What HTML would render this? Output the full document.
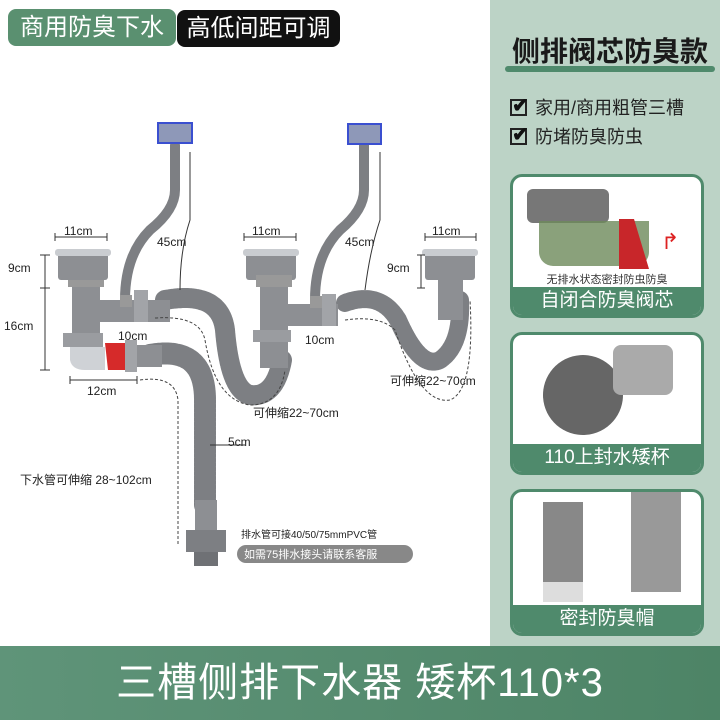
<!DOCTYPE html>
<html><head><meta charset="utf-8"><style>
*{margin:0;padding:0;box-sizing:border-box}
body{width:720px;height:720px;background:#fff;position:relative;overflow:hidden;font-family:"Liberation Sans","Noto Sans CJK SC",sans-serif}
.abs{position:absolute}
.badge{position:absolute;color:#fff;font-size:24px;line-height:37px;text-align:center;border-radius:8px}
.card{position:absolute;left:510px;width:194px;background:#fff;border:3px solid #4f8a6c;border-radius:12px;overflow:hidden}
.cap{position:absolute;left:0;right:0;bottom:0;height:28px;background:#4f8a6c;color:#fff;font-size:19px;line-height:28px;text-align:center}
.chk{font-size:18px;color:#222;position:absolute;left:510px}
.chk b{display:inline-block;width:17px;height:17px;border:2px solid #222;margin-right:8px;vertical-align:-2px;position:relative}
.chk b:after{content:"✔";position:absolute;left:0;top:-8px;font-size:20px;color:#111}
</style></head><body>
<div class="abs" style="left:490px;top:0;width:230px;height:646px;background:#bcd3c6"></div>
<div class="badge" style="left:8px;top:9px;width:168px;background:#5a9070">商用防臭下水</div>
<div class="badge" style="left:177px;top:10px;width:163px;background:#111">高低间距可调</div>
<div class="abs" style="left:505px;top:30px;width:210px;text-align:center;font-size:28px;font-weight:bold;color:#1a1a1a;white-space:nowrap">侧排阀芯防臭款</div>
<div class="abs" style="left:505px;top:66px;width:210px;height:6px;background:#4f8a6c;border-radius:3px"></div>
<div class="chk" style="top:94px"><b></b>家用/商用粗管三槽</div>
<div class="chk" style="top:123px"><b></b>防堵防臭防虫</div>

<div class="card" style="top:174px;height:144px">
 <div class="abs" style="left:14px;top:12px;width:82px;height:34px;background:#777;border-radius:6px"></div>
 <div class="abs" style="left:26px;top:44px;width:110px;height:45px;background:#6d8a5a;border-radius:0 0 14px 14px;opacity:.8"></div>
 <div class="abs" style="left:106px;top:42px;width:30px;height:50px;background:#c8262a;clip-path:polygon(0 0,50% 0,100% 100%,0 100%)"></div>
 <div class="abs" style="left:148px;top:52px;color:#d22;font-size:22px">↱</div>
 <div class="abs" style="left:0;right:0;top:94px;text-align:center;font-size:11px;color:#333">无排水状态密封防虫防臭</div>
 <div class="cap">自闭合防臭阀芯</div>
</div>
<div class="card" style="top:332px;height:143px">
 <div class="abs" style="left:30px;top:20px;width:80px;height:80px;background:#666;border-radius:50%;transform:rotate(30deg)"></div>
 <div class="abs" style="left:100px;top:10px;width:60px;height:50px;background:#aaa;border-radius:8px"></div>
 <div class="cap">110上封水矮杯</div>
</div>
<div class="card" style="top:489px;height:147px">
 <div class="abs" style="left:30px;top:10px;width:40px;height:80px;background:#888"></div>
 <div class="abs" style="left:118px;top:0;width:50px;height:100px;background:#999"></div>
 <div class="abs" style="left:30px;top:90px;width:40px;height:20px;background:#ddd"></div>
 <div class="cap">密封防臭帽</div>
</div>

<svg class="abs" style="left:0;top:0" width="490" height="646" font-family="Liberation Sans,Noto Sans CJK SC,sans-serif" font-size="12" fill="#222">
 <g fill="none" stroke="#7d7f83" stroke-linecap="round">
  <path d="M175 145 L175 190 Q175 210 150 230 Q125 255 125 300" stroke-width="10"/>
  <path d="M364 145 L364 190 Q364 210 340 230 Q315 255 315 300" stroke-width="10"/>
  <path d="M165 300 Q220 290 225 330 Q230 390 250 395 Q275 398 282 360" stroke-width="20" stroke-dasharray="3 1.5"/>
  <path d="M345 303 Q380 290 398 320 Q420 370 440 360 Q462 345 460 300" stroke-width="18" stroke-dasharray="3 1.5"/>
  <path d="M150 355 Q205 345 205 400 L205 505" stroke-width="22" stroke-dasharray="3 1.5"/>
 </g>
 <rect x="72" y="280" width="28" height="58" fill="#8d8f93"/>
 <rect x="68" y="275" width="36" height="12" fill="#999"/>
 <rect x="100" y="300" width="70" height="22" fill="#8d8f93"/>
 <rect x="120" y="295" width="12" height="12" fill="#999"/>
 <rect x="134" y="290" width="14" height="32" fill="#a2a4a8"/>
 <rect x="63" y="333" width="40" height="14" fill="#9a9ca0"/>
 <path d="M70 347 L70 360 Q72 370 85 370 L105 370 L105 347 Z" fill="#cfd2d6"/>
 <path d="M105 343 L125 343 L125 370 L108 370 Z" fill="#d62a2a"/>
 <rect x="125" y="340" width="12" height="32" fill="#a2a4a8"/>
 <rect x="137" y="345" width="25" height="22" fill="#8d8f93"/>
 <g fill="#8d8f93">
  <rect x="58" y="252" width="50" height="28" rx="3"/><rect x="246" y="252" width="50" height="28" rx="3"/><rect x="425" y="252" width="50" height="28" rx="3"/>
 </g>
 <g fill="#c9ccd0"><rect x="55" y="249" width="56" height="7" rx="3"/><rect x="243" y="249" width="56" height="7" rx="3"/><rect x="422" y="249" width="56" height="7" rx="3"/></g>
 <rect x="260" y="280" width="28" height="88" fill="#8d8f93"/>
 <rect x="256" y="275" width="36" height="12" fill="#999"/>
 <rect x="288" y="304" width="50" height="22" fill="#8d8f93"/>
 <rect x="310" y="296" width="12" height="12" fill="#999"/>
 <rect x="322" y="294" width="14" height="32" fill="#a2a4a8"/>
 <rect x="253" y="330" width="38" height="12" fill="#9a9ca0"/>
 <rect x="438" y="280" width="25" height="40" fill="#8d8f93"/>
 <rect x="195" y="500" width="22" height="32" fill="#8d8f93"/>
 <rect x="186" y="530" width="40" height="22" fill="#7d7f83"/>
 <rect x="194" y="552" width="24" height="14" fill="#6f7175"/>
 <rect x="158" y="123" width="34" height="20" fill="#8e98b8" stroke="#3a4fd0" stroke-width="2"/>
 <rect x="348" y="124" width="33" height="20" fill="#8e98b8" stroke="#3a4fd0" stroke-width="2"/>
 <g stroke="#333" stroke-width="1" fill="none">
  <path d="M55 237H107M55 233v8M107 233v8"/>
  <path d="M244 237H296M244 233v8M296 233v8"/>
  <path d="M425 237H476M425 233v8M476 233v8"/>
  <path d="M45 255V370M40 255h10M40 288h10M40 370h10"/>
  <path d="M421 255V288M417 255h8M417 288h8"/>
  <path d="M70 380H137M70 376v8M137 376v8"/>
  <path d="M190 152 L190 220 Q180 250 180 290"/>
  <path d="M380 152 L380 220 Q370 250 365 290"/>
  <path d="M210 445H245"/>
 </g>
 <g stroke="#444" stroke-width="1" fill="none" stroke-dasharray="3 2">
  <path d="M140 380 Q175 375 178 400 L178 545"/>
  <path d="M155 318 Q200 315 205 340 Q215 400 250 405 Q280 405 285 370"/>
  <path d="M345 320 Q380 315 395 330 Q420 405 450 400 Q475 390 470 300"/>
 </g>
 <text x="64" y="235">11cm</text><text x="252" y="235">11cm</text><text x="432" y="235">11cm</text>
 <text x="8" y="272">9cm</text><text x="387" y="272">9cm</text><text x="4" y="330">16cm</text>
 <text x="157" y="246">45cm</text><text x="345" y="246">45cm</text>
 <text x="118" y="340">10cm</text><text x="305" y="344">10cm</text>
 <text x="87" y="395">12cm</text><text x="228" y="446">5cm</text>
 <text x="253" y="417">可伸缩22~70cm</text><text x="390" y="385">可伸缩22~70cm</text>
 <text x="20" y="484">下水管可伸缩 28~102cm</text>
 <text x="241" y="538" font-size="10">排水管可接40/50/75mmPVC管</text>
 <rect x="237" y="545" width="176" height="18" rx="9" fill="#888"/>
 <text x="244" y="558" font-size="11" fill="#fff">如需75排水接头请联系客服</text>
</svg>

<div class="abs" style="left:0;top:646px;width:720px;height:74px;background:linear-gradient(90deg,#5f9479,#4d8466);color:#fff;font-size:40px;line-height:74px;text-align:center;letter-spacing:1px">三槽侧排下水器 矮杯110*3</div>
</body></html>
